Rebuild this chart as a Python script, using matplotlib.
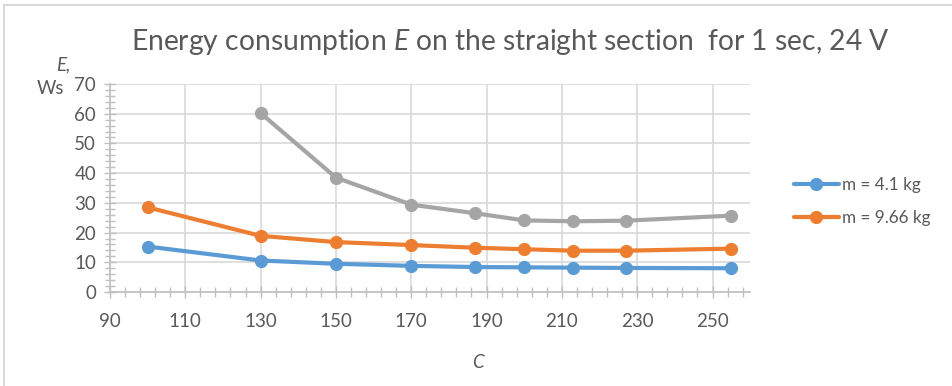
import matplotlib.pyplot as plt
from matplotlib.ticker import MultipleLocator

plt.rcParams['font.family'] = ['Lato', 'DejaVu Sans']
plt.rcParams['mathtext.fontset'] = 'custom'
plt.rcParams['mathtext.it'] = 'Lato:italic'
plt.rcParams['mathtext.rm'] = 'Lato'

# speed setting C and measured energy per run
c_light = [100, 130, 150, 170, 187, 200, 213, 227, 255]
e_light = [15.3, 10.6, 9.5, 8.8, 8.4, 8.3, 8.2, 8.1, 8.0]

c_heavy = [100, 130, 150, 170, 187, 200, 213, 227, 255]
e_heavy = [28.5, 18.9, 16.8, 15.8, 14.9, 14.4, 13.9, 13.9, 14.6]

c_third = [130, 150, 170, 187, 200, 213, 227, 255]
e_third = [60.2, 38.5, 29.4, 26.5, 24.1, 23.8, 24.0, 25.7]

text_col = '#595959'
grid_col = '#d9d9d9'
axis_col = '#bfbfbf'

fig = plt.figure(figsize=(9.52, 3.86), dpi=100)
ax = fig.add_axes([0.1155, 0.2435, 0.788 - 0.1155, 0.7824 - 0.2435])

line_kw = dict(lw=3, marker='o', markersize=8.5, solid_capstyle='round')
ax.plot(c_light, e_light, color='#5B9BD5', label='m = 4.1 kg', **line_kw)
ax.plot(c_heavy, e_heavy, color='#ED7D31', label='m = 9.66 kg', **line_kw)
ax.plot(c_third, e_third, color='#A5A5A5', **line_kw)

ax.set_xlim(90, 260)
ax.set_ylim(0, 70)
ax.xaxis.set_major_locator(MultipleLocator(20, offset=10))
ax.xaxis.set_minor_locator(MultipleLocator(4, offset=2))
ax.yaxis.set_major_locator(MultipleLocator(10))
ax.yaxis.set_minor_locator(MultipleLocator(2))

ax.grid(True, which='major', color=grid_col, lw=1.2)
ax.set_axisbelow(True)
for s in ['top', 'right']:
    ax.spines[s].set_visible(False)
for s in ['left', 'bottom']:
    ax.spines[s].set_color(axis_col)
    ax.spines[s].set_linewidth(1.2)

ax.tick_params(which='both', direction='inout', color=axis_col, labelcolor=text_col,
               labelsize=13.5)
ax.tick_params(which='major', length=8, width=1)
ax.tick_params(which='minor', length=7, width=1)
ax.tick_params(axis='x', pad=11)
ax.tick_params(axis='y', pad=6)

fig.text(0.536, 0.89, r'Energy consumption $E$ on the straight section  for 1 sec, 24 V',
         ha='center', va='center', fontsize=20.3, color=text_col)
fig.text(0.066, 0.832, 'E,', style='italic', ha='center', va='center', fontsize=13.5, color=text_col)
fig.text(0.053, 0.772, 'Ws', ha='center', va='center', fontsize=13.5, color=text_col)
fig.text(0.502, 0.062, 'C', style='italic', ha='center', va='center', fontsize=13.5, color=text_col)

ax.legend(loc='center left', bbox_to_anchor=(0.818, 0.479), bbox_transform=fig.transFigure,
          frameon=False, fontsize=12.3, labelcolor=text_col, handlelength=2.6,
          handletextpad=0.2, labelspacing=1.0)

# light frame on the top and left edges
fig.add_artist(plt.Line2D([0.0045, 0.0045], [0, 0.988], color=grid_col, lw=1.5,
                          transform=fig.transFigure))
fig.add_artist(plt.Line2D([0.0045, 1], [0.988, 0.988], color=grid_col, lw=1.5,
                          transform=fig.transFigure))

fig.savefig('out.png', dpi=100)
